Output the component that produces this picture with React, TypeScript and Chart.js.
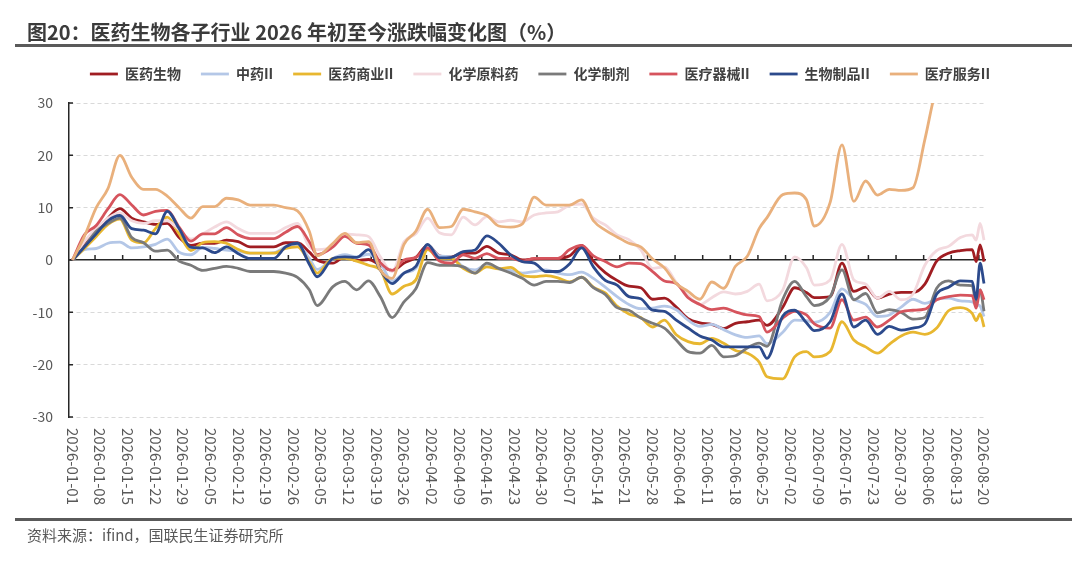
import React, { useEffect, useRef } from 'react';
import { Chart, registerables, Plugin } from 'chart.js';

Chart.register(...registerables);

const FONT = '"Noto Sans CJK SC", "Noto Sans", sans-serif';

// sampled trading dates of 2026 (MM-DD)
const sampleDates = [
  '01-01', '01-04', '01-07', '01-10', '01-13', '01-16', '01-19', '01-22', '01-25', '01-28',
  '01-31', '02-03', '02-06', '02-09', '02-12', '02-15', '02-18', '02-21', '02-24', '02-27',
  '03-02', '03-04', '03-08', '03-11', '03-14', '03-17', '03-20', '03-23', '03-26', '03-29',
  '04-01', '04-04', '04-07', '04-10', '04-13', '04-16', '04-19', '04-22', '04-25', '04-28',
  '05-01', '05-04', '05-07', '05-10', '05-13', '05-16', '05-19', '05-22', '05-25', '05-28',
  '05-31', '06-03', '06-06', '06-09', '06-12', '06-15', '06-18', '06-21', '06-24', '06-26',
  '06-30', '07-03', '07-06', '07-08', '07-12', '07-15', '07-18', '07-21', '07-24', '07-27',
  '07-30', '08-02', '08-05', '08-08', '08-11', '08-14', '08-17', '08-18', '08-19', '08-20',
];

const tickLabels = [
  '2026-01-01', '2026-01-08', '2026-01-15', '2026-01-22', '2026-01-29', '2026-02-05',
  '2026-02-12', '2026-02-19', '2026-02-26', '2026-03-05', '2026-03-12', '2026-03-19',
  '2026-03-26', '2026-04-02', '2026-04-09', '2026-04-16', '2026-04-23', '2026-04-30',
  '2026-05-07', '2026-05-14', '2026-05-21', '2026-05-28', '2026-06-04', '2026-06-11',
  '2026-06-18', '2026-06-25', '2026-07-02', '2026-07-09', '2026-07-16', '2026-07-23',
  '2026-07-30', '2026-08-06', '2026-08-13', '2026-08-20',
];

// 医药生物
const yiyaoShengwu = [
  0, 3, 5.2, 8, 9.8, 8, 7.3, 6.8, 7, 4.3,
  2.8, 3.2, 3.2, 3.8, 3.5, 2.5, 2.5, 2.5, 3.3, 3.3,
  1.5, 0, -0.6, 0.6, -0.1, 0.1, -1, -2, -0.6, 0.5,
  2.8, 0.8, 0.6, 1.3, 1.3, 2.6, 1.3, 1, 0, 0.2,
  0.3, 0.3, 0.8, 2.8, -0.2, -2.4, -3.9, -5, -5.3, -7.5,
  -7.3, -9, -11.2, -12, -12.3, -13.1, -12.1, -11.8, -11.5, -12.5,
  -9, -5.3, -6.2, -7.2, -7, -0.6, -6, -5.2, -7.3, -6.5,
  -6.2, -6.2, -4.6, -0.2, 1.3, 1.8, 2, -0.3, 2.9, -0.3,
];

// 中药II
const zhongyao = [
  0, 2, 2.2, 3.2, 3.4, 2.3, 2.5, 3, 4, 1.5,
  1, 2.4, 2.2, 1.9, 1.7, 1.3, 1.3, 1.4, 2.5, 2.9,
  0.3, -1.8, 0.3, 1, 0.6, 1.1, -0.6, -4, -2.5, -1.6,
  2.8, 0.8, 0.6, -1.3, -1.9, -0.8, -1.7, -2, -2.5, -2.2,
  -1.9, -2.5, -2.8, -2.3, -3.5, -5.2, -7, -8.5, -9.3, -9.2,
  -8.8, -9.5, -11.5, -12.7, -12.3, -13.3, -14.3, -14.8, -14.5, -16,
  -13.8, -11.5, -11.6, -11.9, -10, -5.5, -7.5, -8.5, -10.8, -10.5,
  -9, -7.5, -8.3, -7.5, -7.3, -7.8, -8, -8.5, -8.8, -10.8,
];

// 医药商业II
const yiyaoShangye = [
  0, 2.2, 4.5, 6.8, 7.8, 3.8, 3.3, 6, 8.2, 5,
  1.8, 3.3, 3.5, 3.2, 2, 1.3, 1.3, 1.3, 2.2, 2.5,
  -0.4, -2.5, 0.3, 0.3, -0.2, -1, -1.9, -6.5, -5, -3.8,
  2, 0.2, 0.3, -1.6, -2.5, -1.3, -1.7, -1.4, -2.9, -3.2,
  -3, -3.4, -4.2, -3.3, -5.2, -6.3, -8.8, -10.3, -11, -12.8,
  -11.5, -14.3, -15.6, -16, -15, -15.9, -17.3, -17.8, -19.5, -22.3,
  -22.7, -18.5, -17.5, -18.5, -17.5, -11.8, -15.3, -16.6, -17.8, -16.1,
  -14.5, -13.8, -14.2, -13, -9.7, -9.1, -10.2, -11.6, -10.3, -12.8,
];

// 化学原料药
const huaxueYuanliao = [
  0, 3.5, 6, 8, 9, 7.5, 7, 7.5, 7.5, 5.8,
  4, 5, 6.3, 7.3, 6, 5.1, 5.1, 5.1, 6.2, 7,
  2.5, 2, 2.5, 5, 4.8, 4.5, 0.6, -2.2, 3.5, 5,
  8, 5.2, 4.8, 8.2, 6.7, 8.3, 7.3, 7.6, 7.3, 8.6,
  9, 9.2, 10.5, 10.7, 8, 6.7, 4.8, 3.9, 2, -1.6,
  -1.3, -4.3, -6.8, -8.5, -7.2, -6.1, -6.5, -6, -4.6, -7.8,
  -5.7, 0.6, -1.5, -4.8, -3.8, 3, -3.8, -4.6, -7.3, -6,
  -7.6, -6.5, -1, 1.8, 2.6, 4.3, 4.8, 3.8, 7, 3.8,
];

// 化学制剂
const huaxueZhiji = [
  0, 2.5, 5.5, 7, 8, 4.3, 3.3, 1.7, 1.9, -0.2,
  -1, -2, -1.6, -1.2, -1.6, -2.2, -2.2, -2.2, -2.5, -3.3,
  -5.7, -8.7, -5.1, -4.1, -5.7, -4, -7, -11, -8, -5.5,
  -0.5, -1, -1, -1.3, -2.5, -0.6, -1.6, -2.5, -3.5, -4.8,
  -4.1, -4.1, -4.3, -3.3, -5.3, -6.6, -9.1, -9.6, -11.1, -12.1,
  -13, -15.3, -17.5, -17.8, -16.3, -18.5, -18.3, -16.8, -15.9, -16.5,
  -7.5, -4.1, -7, -8.7, -7, -1.9, -7.6, -6.4, -10.1, -9.5,
  -10, -11.3, -11, -5.4, -4, -4.8, -4.9, -8.2, -5.7, -9.8,
];

// 医疗器械II
const yiliaoQixie = [
  0, 4.8, 6.6, 9.8, 12.5, 10.5, 8.6, 9.3, 9.5, 6.3,
  3.6, 5, 5, 6.2, 4.8, 4.1, 4.1, 4.1, 5.3, 6.4,
  3.5, 1, 2.5, 4.5, 3.2, 2.9, -0.5, -2, 0, 0.5,
  2.3, -0.2, -0.6, 1, 0.3, 1.2, 0.3, 0.3, -0.2, 0.3,
  0.3, 0.3, 2, 2.8, 0.8, -0.3, -1.3, -0.6, -0.7, -2.2,
  -4, -4.5, -7.2, -8.5, -9.5, -9.2, -9.9, -10.5, -10.8, -13.8,
  -11.1, -9.8, -10.5, -12.2, -13, -7.6, -11.5, -10.9, -12.8, -11.5,
  -9.9, -9.6, -9.4, -7.6, -7, -6.7, -6.8, -9.2, -5.7, -7.6,
];

// 生物制品II
const shengwuZhipin = [
  0, 2.5, 5, 7.5, 8.5, 6, 5.7, 5, 9.3, 6,
  2.4, 2.3, 1.4, 2.5, 1.2, 0.3, 0.3, 0.3, 2.5, 3.2,
  -0.8, -3.2, 0.3, 0.6, 0.5, 2, -1.9, -4.5, -2.5, -1.2,
  3, 0.4, 0.5, 1.6, 1.9, 4.6, 3.2, 1, -0.3, -0.6,
  -2.2, -2.2, -0.7, 2.3, -1.3, -3.9, -4.8, -7, -7.4, -9.6,
  -9.8, -11.5, -13, -14.5, -15.3, -16.6, -16.6, -16.6, -16.6, -18.8,
  -10.7, -9.6, -12, -13.5, -11.8, -6.5, -12.8, -11.5, -14.2, -12.7,
  -13.4, -13, -12.2, -6.5, -5.2, -4, -4.1, -7.5, -0.6, -4.5,
];

// 医疗服务II
const yiliaoFuwu = [
  0, 4.5, 10, 13.7, 20, 15.8, 13.5, 13.5, 12.2, 10,
  8, 10.2, 10.2, 11.8, 11.5, 10.5, 10.5, 10.5, 10, 9.4,
  5.5, 0.8, 3.2, 5.1, 3.3, 3.5, -1.9, -3.5, 3, 5.5,
  9.7, 6.2, 6.4, 9.7, 9.2, 8.5, 6.5, 6.3, 6.9, 12,
  10.5, 10.5, 10.5, 11.5, 7.5, 5.7, 4.4, 3.2, 2.5, 0.2,
  -1.5, -4.5, -6, -7.5, -4.2, -5.4, -1.2, 0.7, 6, 8.1,
  12.5, 12.8, 11.5, 6.5, 11, 22, 11.2, 15.1, 12.4, 13.5,
  13.3, 13.8, 23, 33, 36, 37, 36, 36, 37, 38,
];

const seriesNames = ['医药生物', '中药II', '医药商业II', '化学原料药', '化学制剂', '医疗器械II', '生物制品II', '医疗服务II'];
const seriesValues = [yiyaoShengwu, zhongyao, yiyaoShangye, huaxueYuanliao, huaxueZhiji, yiliaoQixie, shengwuZhipin, yiliaoFuwu];
const seriesColors = ['#a01d22', '#b4c7e7', '#e8b730', '#f3d9de', '#7a7a7a', '#d6545d', '#2c4a8c', '#e9b07c'];

// days since 2026-01-01
const dayOf = (mmdd: string) => {
  const [m, d] = mmdd.split('-').map(Number);
  return (Date.UTC(2026, m - 1, d) - Date.UTC(2026, 0, 1)) / 86400000;
};

// extra room between legend and plot
const legendGap: Plugin<'line'> = {
  id: 'legendGap',
  beforeInit(chart: any) {
    const fit = chart.legend.fit;
    chart.legend.fit = function () {
      fit.call(this);
      this.height += 12;
    };
  },
};

const axisDecor: Plugin<'line'> = {
  id: 'axisDecor',
  beforeDatasetsDraw(chart) {
    const { ctx, chartArea, scales } = chart;
    const xs = scales.x;
    const ys = scales.y;
    const zeroY = ys.getPixelForValue(0);
    ctx.save();
    ctx.strokeStyle = '#262626';
    ctx.lineWidth = 1.5;
    ctx.beginPath();
    ys.ticks.forEach((t) => {
      const py = ys.getPixelForValue(t.value);
      ctx.moveTo(chartArea.left, py);
      ctx.lineTo(chartArea.left + 4, py);
    });
    // weekly marks on the zero line
    for (let k = 0; k * 7 + 5.7 < 231; k++) {
      const px = xs.getPixelForValue(k * 7 + 5.7);
      ctx.moveTo(px, zeroY);
      ctx.lineTo(px, zeroY - 5);
    }
    ctx.stroke();
    ctx.restore();
  },
  afterDraw(chart) {
    // date labels turned to read top to bottom
    const { ctx, chartArea, scales } = chart;
    ctx.save();
    ctx.fillStyle = '#595959';
    ctx.font = `15px ${FONT}`;
    ctx.textAlign = 'left';
    ctx.textBaseline = 'middle';
    tickLabels.forEach((label) => {
      const px = scales.x.getPixelForValue(dayOf(label.slice(5)));
      ctx.save();
      ctx.translate(px, chartArea.bottom + 11);
      ctx.rotate(Math.PI / 2);
      ctx.fillText(label, 0, 0);
      ctx.restore();
    });
    ctx.restore();
  },
};

const SubIndustryChart: React.FC = () => {
  const chartRef = useRef<HTMLCanvasElement>(null);
  const chartInstance = useRef<Chart | null>(null);

  useEffect(() => {
    document.body.style.margin = '0';
    if (!chartRef.current) return;
    if (chartInstance.current) chartInstance.current.destroy();
    const ctx = chartRef.current.getContext('2d');
    if (!ctx) return;

    const days = sampleDates.map(dayOf);

    chartInstance.current = new Chart(ctx, {
      type: 'line',
      data: {
        datasets: seriesNames.map((name, i) => ({
          label: name,
          data: days.map((d, j) => ({ x: d, y: seriesValues[i][j] })),
          borderColor: seriesColors[i],
          backgroundColor: seriesColors[i],
          borderWidth: 2.8,
          pointRadius: 0,
          cubicInterpolationMode: 'monotone' as const,
          order: seriesNames.length - i,
        })),
      },
      options: {
        animation: false,
        responsive: true,
        maintainAspectRatio: false,
        layout: { padding: { top: 47, left: 0, right: 0, bottom: 155 } },
        plugins: {
          legend: {
            position: 'top',
            labels: {
              usePointStyle: true,
              pointStyle: 'line',
              pointStyleWidth: 28,
              padding: 20,
              color: '#404040',
              font: { size: 14, weight: 'bold', family: FONT },
              sort: (a, b) => (a.datasetIndex ?? 0) - (b.datasetIndex ?? 0),
            },
          },
          tooltip: { enabled: false },
        },
        scales: {
          x: { type: 'linear', display: false, min: -0.9, max: 231.5 },
          y: {
            min: -30,
            max: 30,
            ticks: { stepSize: 10, padding: 16, color: '#595959', font: { size: 14, family: FONT } },
            grid: {
              color: (c) => (c.tick && c.tick.value === 0 ? '#262626' : '#d9d9d9'),
              lineWidth: (c) => (c.tick && c.tick.value === 0 ? 1.5 : 1),
              drawTicks: false,
            },
            border: {
              display: true,
              color: '#262626',
              width: 1.5,
              dash: (c) => (c.tick && c.tick.value === 0 ? [] : [4, 3]),
            },
            afterFit: (s) => { s.width = 69; },
          },
          yPad: {
            position: 'right',
            display: true,
            grid: { display: false },
            ticks: { display: false },
            border: { display: false },
            afterFit: (s) => { s.width = 94; },
          },
        },
      },
      plugins: [legendGap, axisDecor],
    });

    return () => {
      if (chartInstance.current) {
        chartInstance.current.destroy();
        chartInstance.current = null;
      }
    };
  }, []);

  return (
    <div style={{ position: 'relative', width: 1080, height: 572, background: '#fff', fontFamily: FONT }}>
      <div style={{ position: 'absolute', left: 0, top: 0, width: 1080, height: 572 }}>
        <canvas ref={chartRef} />
      </div>
      <div style={{ position: 'absolute', left: 27, top: 21, fontSize: 20, lineHeight: '22px', fontWeight: 'bold', color: '#3b3b3b', whiteSpace: 'nowrap' }}>
        图20：医药生物各子行业 2026 年初至今涨跌幅变化图（%）
      </div>
      <div style={{ position: 'absolute', left: 15, top: 44, width: 1057, height: 3, background: '#5a5a5a' }} />
      <div style={{ position: 'absolute', left: 15, top: 518, width: 1057, height: 2.5, background: '#5a5a5a' }} />
      <div style={{ position: 'absolute', left: 27, top: 525, fontSize: 15, lineHeight: '20px', color: '#595959', whiteSpace: 'nowrap' }}>
        资料来源：ifind，国联民生证券研究所
      </div>
    </div>
  );
};

export default function App() {
  return <SubIndustryChart />;
}
